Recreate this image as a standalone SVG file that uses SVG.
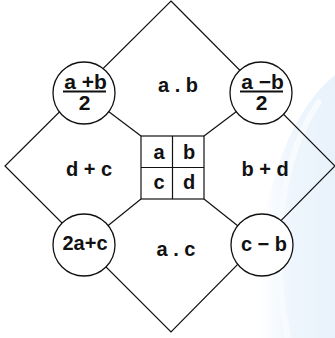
<svg xmlns="http://www.w3.org/2000/svg" width="335" height="338" viewBox="0 0 335 338">
  <defs>
    <linearGradient id="bg" x1="0" y1="0" x2="1" y2="0">
      <stop offset="0" stop-color="#f3f8fd" stop-opacity="0"/>
      <stop offset="0.4" stop-color="#eff6fd"/>
      <stop offset="1" stop-color="#e8f2fb"/>
    </linearGradient>
  </defs>
  <style>
    .ln { stroke: #111; stroke-width: 1.2; fill: none; }
    .cir { stroke: #111; stroke-width: 1.3; fill: #fff; }
    .t { font-family: "Liberation Sans", Arial, sans-serif; font-weight: bold; fill: #111; text-anchor: middle; }
    .lbl { font-size: 20px; }
    .ct { font-size: 20px; }
    .fr { font-size: 21px; }
    .sq { font-size: 20px; }
  </style>
  <rect width="335" height="338" fill="#fff"/>
  <g id="background">
    <path d="M335 75 C 285 115, 250 215, 260 338 L 335 338 Z" fill="url(#bg)"/>
    <path d="M320 100 C 282 155, 268 245, 288 338" fill="none" stroke="#f7fbfe" stroke-width="6"/>
  </g>
  <g id="connectors">
    <polygon class="ln" points="171,1 335,166 171,332 5,166"/>
    <line class="ln" x1="141" y1="136" x2="84" y2="93"/>
    <line class="ln" x1="204" y1="136" x2="261" y2="93"/>
    <line class="ln" x1="141" y1="199" x2="84" y2="245"/>
    <line class="ln" x1="204" y1="199" x2="262" y2="245"/>
  </g>
  <g id="center-square">
    <rect x="141" y="136" width="63" height="63" fill="#fff" stroke="#111" stroke-width="1.2"/>
    <line class="ln" x1="172.5" y1="136" x2="172.5" y2="199"/>
    <line class="ln" x1="141" y1="167.5" x2="204" y2="167.5"/>
    <text class="t sq" x="159" y="159">a</text>
    <text class="t sq" x="189" y="159">b</text>
    <text class="t sq" x="159" y="189">c</text>
    <text class="t sq" x="189" y="189">d</text>
  </g>
  <g id="label-ab"><text class="t lbl" x="178" y="92">a . b</text></g>
  <g id="label-dc"><text class="t lbl" x="89" y="176">d + c</text></g>
  <g id="label-bd"><text class="t lbl" x="265" y="176">b + d</text></g>
  <g id="label-ac"><text class="t lbl" x="176" y="256">a . c</text></g>
  <g id="circle-tl">
    <circle class="cir" cx="84" cy="93" r="31"/>
    <text class="t fr" x="85.5" y="88.5">a +b</text>
    <line x1="63" y1="91.5" x2="106" y2="91.5" stroke="#111" stroke-width="2"/>
    <text class="t fr" x="84.5" y="109.5">2</text>
  </g>
  <g id="circle-tr">
    <circle class="cir" cx="261" cy="93" r="31"/>
    <text class="t fr" x="262.5" y="88.5">a −b</text>
    <line x1="240" y1="91.5" x2="283" y2="91.5" stroke="#111" stroke-width="2"/>
    <text class="t fr" x="261.5" y="109.5">2</text>
  </g>
  <g id="circle-bl">
    <circle class="cir" cx="84" cy="245" r="31"/>
    <text class="t ct" x="85" y="250">2a+c</text>
  </g>
  <g id="circle-br">
    <circle class="cir" cx="262" cy="245" r="31"/>
    <text class="t ct" x="264" y="251">c − b</text>
  </g>
</svg>
